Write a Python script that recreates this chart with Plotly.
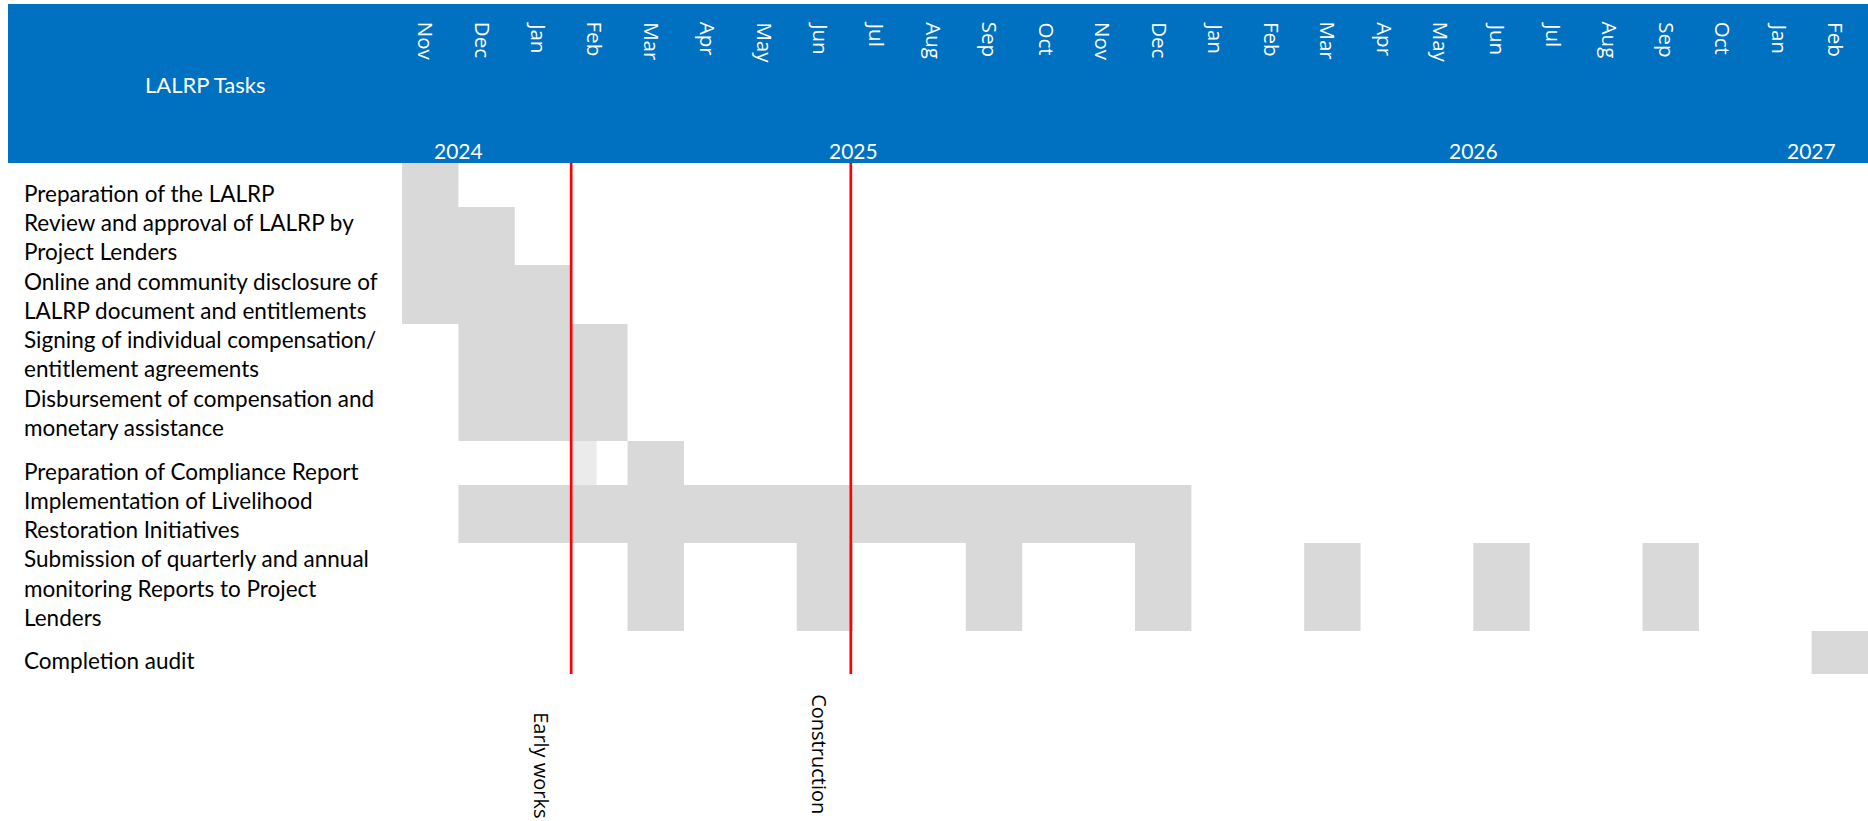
import plotly.graph_objects as go

# ---------------- data ----------------
month_labels = ["Nov", "Dec", "Jan", "Feb", "Mar", "Apr", "May", "Jun", "Jul", "Aug",
                "Sep", "Oct", "Nov", "Dec", "Jan", "Feb", "Mar", "Apr", "May", "Jun",
                "Jul", "Aug", "Sep", "Oct", "Jan", "Feb"]
year_labels = ["2024", "2025", "2026", "2027"]
year_month_pos = [1, 8, 19, 25]          # column boundary under which the year sits

task_lines = [
    ["Preparation of the LALRP"],
    ["Review and approval of LALRP by", "Project Lenders"],
    ["Online and community disclosure of", "LALRP document and entitlements"],
    ["Signing of individual compensation/", "entitlement agreements"],
    ["Disbursement of compensation and", "monetary assistance"],
    ["Preparation of Compliance Report"],
    ["Implementation of Livelihood", "Restoration Initiatives"],
    ["Submission of quarterly and annual", "monitoring Reports to Project", "Lenders"],
    ["Completion audit"],
]

# schedule segments: task index, start month index, duration (months)
seg_task = [0, 1, 2, 3, 4, 5, 6, 7, 7, 7, 7, 7, 7, 7, 8]
seg_start = [0, 0, 0, 1, 1, 4, 1, 4, 7, 10, 13, 16, 19, 22, 25]
seg_len = [1, 2, 3, 3, 3, 1, 13, 1, 1, 1, 1, 1, 1, 1, 1]

# faint leftover segment in the compliance-report row
ghost_task = [5]
ghost_start = [3]
ghost_len = [0.45]

milestones = ["Early works", "Construction"]
milestone_month = [3, 7.96]

# ---------------- layout constants ----------------
W, H = 1868, 821
col_px = 56.385
grid_left_px = 402
header_top, header_bottom = 4, 163
row_heights = [44, 58, 59, 58, 59, 44, 58, 88, 43]
line_step = 29.5
label_x_px = 22
milestone_label_top = [710, 692]
milestone_label_dx = [-0.52, -0.55]

GRAY = "#d9d9d9"
BLUE = "#0070c0"
LABEL_FONT = "Lato"
HEAD_FONT = "Open Sans"

# row geometry
row_top = []
acc = header_bottom
for h in row_heights:
    row_top.append(acc)
    acc += h
table_bottom = acc
row_center = [t + h / 2 for t, h in zip(row_top, row_heights)]
row_bottom = [t + h for t, h in zip(row_top, row_heights)]

fig = go.Figure()

fig.add_trace(go.Bar(
    orientation="h",
    y=[row_center[t] for t in seg_task],
    width=[row_heights[t] for t in seg_task],
    base=seg_start,
    x=seg_len,
    marker=dict(color=GRAY, line=dict(width=0)),
    hoverinfo="skip",
    showlegend=False,
))
fig.add_trace(go.Bar(
    orientation="h",
    y=[row_center[t] for t in ghost_task],
    width=[row_heights[t] for t in ghost_task],
    base=ghost_start,
    x=ghost_len,
    marker=dict(color="#ebebeb", line=dict(width=0)),
    hoverinfo="skip",
    showlegend=False,
))

for m in milestone_month:
    fig.add_trace(go.Scatter(
        x=[m, m], y=[header_bottom, table_bottom],
        mode="lines", line=dict(color="#ff0000", width=2.7),
        hoverinfo="skip", showlegend=False,
    ))

annotations = []
# header title
annotations.append(dict(
    text="LALRP Tasks", xref="paper", yref="y",
    x=205 / W, y=84, xanchor="center", yanchor="middle",
    showarrow=False, font=dict(family=LABEL_FONT, size=22, color="white"),
))
# month labels
for i, lab in enumerate(month_labels):
    annotations.append(dict(
        text=lab, xref="x", yref="y", x=i + 0.44, y=20,
        xanchor="center", yanchor="top", textangle=90, showarrow=False,
        font=dict(family=HEAD_FONT, size=20.5, color="white"),
    ))
# year labels
for lab, pos in zip(year_labels, year_month_pos):
    annotations.append(dict(
        text=lab, xref="x", yref="y", x=pos, y=150,
        xanchor="center", yanchor="middle", showarrow=False,
        font=dict(family=LABEL_FONT, size=21, color="white"),
    ))
# task labels
for r, lines in enumerate(task_lines):
    n = len(lines)
    for k, line in enumerate(lines):
        yc = row_bottom[r] - 13.5 - (n - 1 - k) * line_step
        annotations.append(dict(
            text=line, xref="paper", yref="y", x=label_x_px / W, y=yc,
            xanchor="left", yanchor="middle", showarrow=False,
            font=dict(family=LABEL_FONT, size=22.5, color="black"),
        ))
# milestone labels
for name, m, top, dx in zip(milestones, milestone_month, milestone_label_top, milestone_label_dx):
    annotations.append(dict(
        text=name, xref="x", yref="y", x=m + dx, y=top,
        xanchor="center", yanchor="top", textangle=90, showarrow=False,
        font=dict(family=HEAD_FONT, size=20, color="black"),
    ))

fig.update_layout(
    width=W, height=H,
    margin=dict(l=0, r=0, t=0, b=0),
    paper_bgcolor="white", plot_bgcolor="white",
    barmode="overlay",
    xaxis=dict(range=[-grid_left_px / col_px, (W - grid_left_px) / col_px],
               visible=False, fixedrange=True),
    yaxis=dict(range=[H, 0], visible=False, fixedrange=True),
    shapes=[dict(type="rect", xref="paper", yref="y", x0=8 / W, x1=1,
                 y0=header_top, y1=header_bottom, fillcolor=BLUE,
                 line=dict(width=0), layer="below")],
    annotations=annotations,
)

fig.write_html("out.html")
